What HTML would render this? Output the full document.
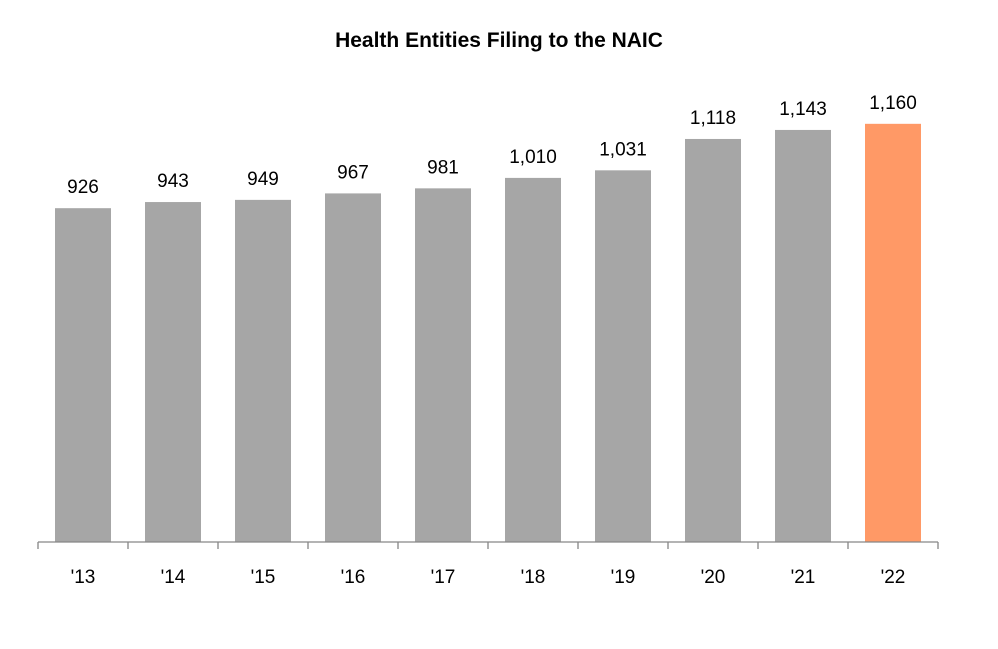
<!DOCTYPE html>
<html><head><meta charset="utf-8"><style>
body{margin:0;background:#fff;}
svg{display:block;font-family:"Liberation Sans",sans-serif;}
</style></head><body>
<svg id="chart" width="998" height="649">
<text x="499" y="47" text-anchor="middle" font-size="21" font-weight="bold" fill="#000">Health Entities Filing to the NAIC</text>
<g id="bars"></g>
<g id="axis"></g>
</svg>
<script>
const categories=["'13","'14","'15","'16","'17","'18","'19","'20","'21","'22"];
const values=[926,943,949,967,981,1010,1031,1118,1143,1160];
const valueLabels=["926","943","949","967","981","1,010","1,031","1,118","1,143","1,160"];
const NS="http://www.w3.org/2000/svg";
const x0=38,step=90,base=542,scale=0.3605,bw=56;
const xBand=i=>x0+i*step;
const y=v=>base-v*scale;
const bars=document.getElementById('bars'),axis=document.getElementById('axis');
function mk(tag,attrs,parent){const e=document.createElementNS(NS,tag);for(const k in attrs)e.setAttribute(k,attrs[k]);parent.appendChild(e);return e;}
values.forEach((v,i)=>{
 const r=mk('rect',{x:xBand(i)+17,y:y(v),width:bw,height:base-y(v),fill:i===values.length-1?'#ff9966':'#a6a6a6'},bars);
 
 
 const t=mk('text',{x:xBand(i)+45,y:y(v)-15,'text-anchor':'middle','font-size':19,fill:'#000'},bars);
 t.textContent=valueLabels[i];
 
 
 const c=mk('text',{x:xBand(i)+45,y:583,'text-anchor':'middle','font-size':19,fill:'#000'},axis);
 c.textContent=categories[i];
 
 
});
const l=mk('line',{x1:x0,x2:x0+categories.length*step,y1:base,y2:base,stroke:'#868686','stroke-width':1.3},axis);


for(let i=0;i<=categories.length;i++){
 const t=mk('line',{x1:xBand(i),x2:xBand(i),y1:base,y2:base+7,stroke:'#868686','stroke-width':1.3},axis);
 
 
}
</script>
</body></html>
